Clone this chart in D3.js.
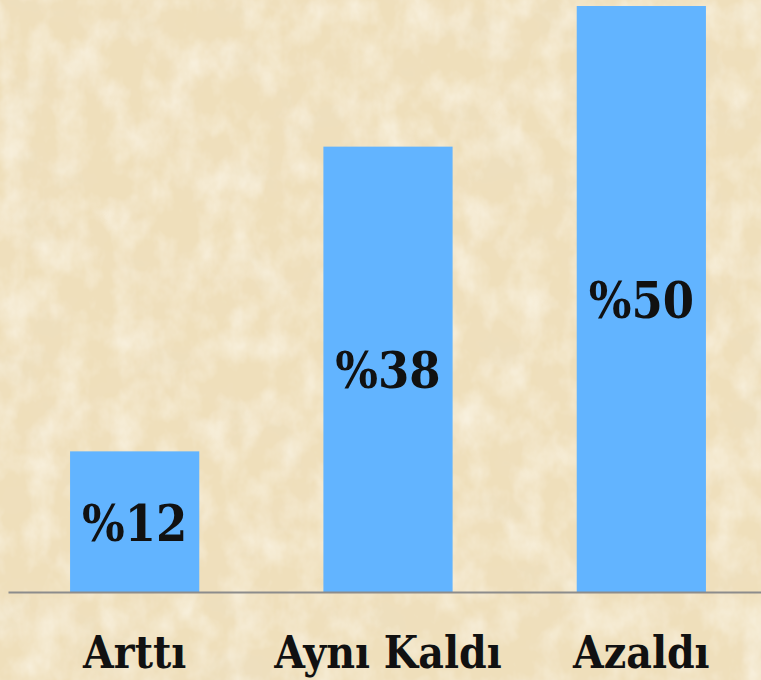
<!DOCTYPE html>
<html>
<head>
<meta charset="utf-8">
<script src="https://cdn.jsdelivr.net/npm/d3@7"></script>
<style>
  body { margin: 0; background: #efdfbb; }
  svg { display: block; }
  .label { font-family: "DejaVu Serif Condensed", "DejaVu Serif", serif; font-weight: bold; fill: #111; }
</style>
</head>
<body>
<div class="chart"></div>
<script>
// Chart data
var categories = ["Arttı", "Aynı Kaldı", "Azaldı"];
var values = [12, 38, 50];
var valueLabels = ["%12", "%38", "%50"];

// Chart Params
var svgWidth = 761;
var svgHeight = 680;
var baseY = 592;

var svg = d3.select(".chart")
  .append("svg")
  .attr("width", svgWidth)
  .attr("height", svgHeight);

// Parchment background
var defs = svg.append("defs");
var darkFilter = defs.append("filter").attr("id", "darkSpots")
  .attr("x", 0).attr("y", 0).attr("width", "100%").attr("height", "100%");
darkFilter.append("feTurbulence")
  .attr("type", "fractalNoise")
  .attr("baseFrequency", "0.015 0.02")
  .attr("numOctaves", 5)
  .attr("seed", 7);
darkFilter.append("feColorMatrix")
  .attr("type", "matrix")
  .attr("values", "0 0 0 0 0.85  0 0 0 0 0.74  0 0 0 0 0.53  1.4 0 0 0 -0.6");

var lightFilter = defs.append("filter").attr("id", "lightSpots")
  .attr("x", 0).attr("y", 0).attr("width", "100%").attr("height", "100%");
lightFilter.append("feTurbulence")
  .attr("type", "fractalNoise")
  .attr("baseFrequency", "0.035 0.025")
  .attr("numOctaves", 4)
  .attr("seed", 3);
lightFilter.append("feColorMatrix")
  .attr("type", "matrix")
  .attr("values", "0 0 0 0 0.97  0 0 0 0 0.93  0 0 0 0 0.83  0 1.3 0 0 -0.5");

svg.append("rect")
  .attr("width", svgWidth).attr("height", svgHeight)
  .attr("fill", "#efdfbb");
svg.append("rect")
  .attr("width", svgWidth).attr("height", svgHeight)
  .attr("filter", "url(#darkSpots)");
svg.append("rect")
  .attr("width", svgWidth).attr("height", svgHeight)
  .attr("filter", "url(#lightSpots)");

// Scales
var xBandScale = d3.scaleBand()
  .domain(categories)
  .range([8, 768])
  .paddingInner(0.49)
  .paddingOuter(0.245);

var yLinearScale = d3.scaleLinear()
  .domain([0, 50])
  .range([baseY, 6]);

// Bars
svg.selectAll(".bar")
  .data(values)
  .enter()
  .append("rect")
  .attr("class", "bar")
  .attr("x", (d, i) => xBandScale(categories[i]))
  .attr("y", d => yLinearScale(d))
  .attr("width", xBandScale.bandwidth())
  .attr("height", d => baseY - yLinearScale(d))
  .attr("fill", "#62b4ff");

// Value labels inside bars
svg.selectAll(".value")
  .data(values)
  .enter()
  .append("text")
  .attr("class", "label value")
  .attr("x", (d, i) => xBandScale(categories[i]) + xBandScale.bandwidth() / 2)
  .attr("y", d => (yLinearScale(d) + baseY) / 2)
  .attr("dy", "0.38em")
  .attr("text-anchor", "middle")
  .style("font-size", "50px")
  .text((d, i) => valueLabels[i]);

// Bottom axis
var bottomAxis = d3.axisBottom(xBandScale)
  .tickSize(0)
  .tickPadding(45);

var xAxis = svg.append("g")
  .attr("transform", `translate(0, ${baseY})`)
  .call(bottomAxis);

xAxis.select(".domain")
  .attr("stroke", "#8c8c8c")
  .attr("stroke-width", 2);

xAxis.selectAll("text")
  .attr("class", "label")
  .attr("fill", "#111")
  .style("font-size", "44px");
</script>
</body>
</html>
